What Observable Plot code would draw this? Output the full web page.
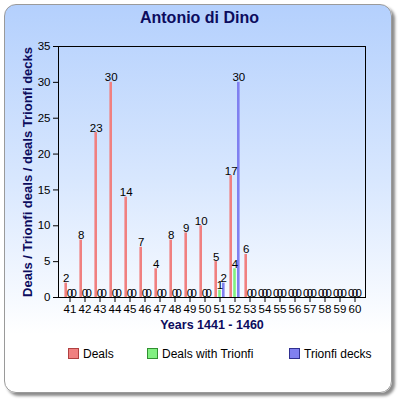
<!DOCTYPE html>
<html><head><meta charset="utf-8">
<script src="https://cdn.jsdelivr.net/npm/d3@7"></script>
<script src="https://cdn.jsdelivr.net/npm/@observablehq/plot@0.6"></script>
<style>
body{margin:0;width:399px;height:401px;overflow:hidden;font-family:"Liberation Sans",Arial,sans-serif;background:#fff;position:relative}
#panel{position:absolute;left:4px;top:4px;width:386px;height:387px;border:1px solid #9a9a9a;border-radius:12px;background:linear-gradient(180deg,#b4d0fd 0%,#d8e7fe 45%,#ffffff 85%);box-shadow:3px 3px 3px #8a8a8a}
#title{position:absolute;left:0;top:9px;width:399px;text-align:center;font-weight:bold;font-size:16px;color:#0c0c5e}
#chart{position:absolute;left:0;top:0}
.li{position:absolute;top:347px;font-size:12px;color:#000;white-space:nowrap;line-height:14px}
.sw{display:inline-block;width:9px;height:9px;border:1px solid;vertical-align:-1px;margin-right:4px}
</style></head>
<body>
<div id="panel"></div>
<div id="title">Antonio di Dino</div>
<div id="chart"></div>
<div class="li" style="left:68px"><span class="sw" style="background:#f08080;border-color:#b04040"></span>Deals</div>
<div class="li" style="left:147px"><span class="sw" style="background:#80f080;border-color:#309030"></span>Deals with Trionfi</div>
<div class="li" style="left:289px"><span class="sw" style="background:#8080f0;border-color:#303090"></span>Trionfi decks</div>
<script>
const years = ["41","42","43","44","45","46","47","48","49","50","51","52","53","54","55","56","57","58","59","60"];
const deals = [2,8,23,30,14,7,4,8,9,10,5,17,6,0,0,0,0,0,0,0];
const dealsTrionfi = [0,0,0,0,0,0,0,0,0,0,1,4,0,0,0,0,0,0,0,0];
const trionfiDecks = [0,0,0,0,0,0,0,0,0,0,2,30,0,0,0,0,0,0,0,0];
const yTicks = [0,5,10,15,20,25,30,35];
const xLabel = "Years 1441 - 1460";
const yLabel = "Deals / Trionfi deals / deals Trionfi decks";

const rows = years.map((y,i)=>({year:y, deals:deals[i], dealsTrionfi:dealsTrionfi[i], trionfiDecks:trionfiDecks[i]}));
const series = [
  {key:"deals", fill:"#f08080", dx:-3.8},
  {key:"dealsTrionfi", fill:"#80f080", dx:0},
  {key:"trionfiDecks", fill:"#8080f0", dx:3.8}
];
const inset = 6.2;
const marks = [];
for (const s of series) {
  marks.push(Plot.barY(rows, {x:"year", y:s.key, fill:s.fill, insetLeft:inset, insetRight:inset, dx:s.dx}));
}
for (const s of series) {
  marks.push(Plot.text(rows, {x:"year", y:s.key, text:s.key, dx:s.dx, dy:-1, lineAnchor:"bottom", fill:"#000", fontSize:11.5}));
}
marks.push(Plot.frame({stroke:"#000"}));
marks.push(Plot.text([xLabel], {text:d=>d, frameAnchor:"bottom", dy:31, fill:"#0c0c5e", fontWeight:"bold", fontSize:12.5}));
marks.push(Plot.text([yLabel], {text:d=>d, frameAnchor:"left", textAnchor:"middle", dx:-31, rotate:-90, fill:"#0c0c5e", fontWeight:"bold", fontSize:13}));

const chart = Plot.plot({
  width:399, height:340,
  marginLeft:58, marginRight:34, marginTop:46, marginBottom:43,
  style:{background:"transparent", fontSize:"11.5px", fontFamily:"'Liberation Sans', Arial, sans-serif", color:"#000", overflow:"visible"},
  x:{type:"band", domain:years, padding:0, label:null, tickSize:5, tickPadding:2},
  y:{domain:[0,35], ticks:yTicks, label:null, tickSize:5, tickPadding:3},
  marks
});
document.getElementById("chart").appendChild(chart);
</script>
</body></html>
